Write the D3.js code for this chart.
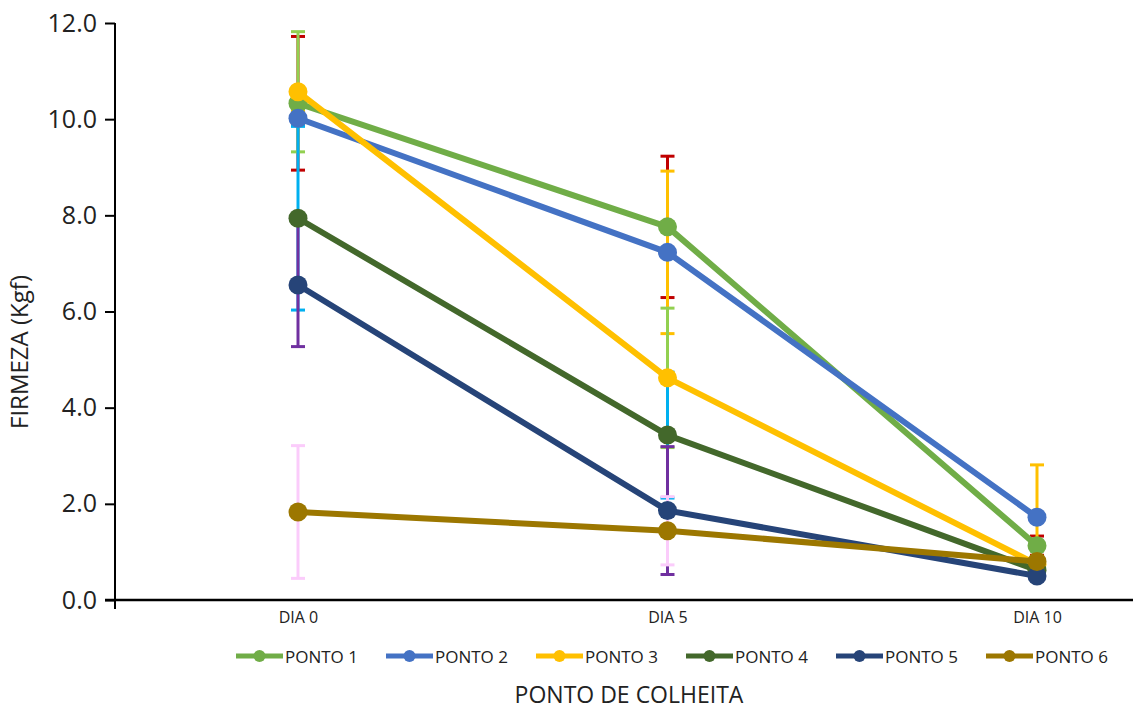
<!DOCTYPE html>
<html>
<head>
<meta charset="utf-8">
<script src="https://cdn.jsdelivr.net/npm/d3@7"></script>
<style>
  body { margin: 0; background: #fff; }
  svg { display: block; font-family: "Open Sans", sans-serif; }
</style>
</head>
<body>
<svg id="chart" width="1133" height="709"></svg>
<script>
var days = ["DIA 0", "DIA 5", "DIA 10"];
var seriesNames = ["PONTO 1", "PONTO 2", "PONTO 3", "PONTO 4", "PONTO 5", "PONTO 6"];
var yTicks = [0, 2, 4, 6, 8, 10, 12];

var ponto1 = [10.33, 7.76, 1.13];
var ponto2 = [10.02, 7.23, 1.72];
var ponto3 = [10.57, 4.62, 0.74];
var ponto4 = [7.94, 3.43, 0.62];
var ponto5 = [6.55, 1.86, 0.50];
var ponto6 = [1.83, 1.44, 0.80];

var err1 = [1.39, 1.47, 0.20];
var err2 = [0.15, 1.69, 1.09];
var err3 = [1.25, 1.45, 0.10];
var err4 = [1.91, 1.31, 0.10];
var err5 = [1.28, 1.33, 0.10];
var err6 = [1.38, 0.71, 0.10];

var lineColors = ["#70ad47", "#4472c4", "#ffc000", "#43682b", "#264478", "#9c7700"];
var errColors = ["#c00000", "#ffc000", "#92d050", "#00b0f0", "#7030a0", "#fbccfb"];

var values = [ponto1, ponto2, ponto3, ponto4, ponto5, ponto6];
var errors = [err1, err2, err3, err4, err5, err6];

var series = seriesNames.map(function(name, i) {
  return {
    name: name,
    color: lineColors[i],
    errColor: errColors[i],
    points: days.map(function(d, j) {
      return { day: d, v: values[i][j], e: errors[i][j] };
    })
  };
});

var svg = d3.select("#chart");

var x = d3.scalePoint().domain(days).range([298, 1037]);
var y = d3.scaleLinear().domain([0, 12]).range([600, 23]);

// y axis
var yAxis = svg.append("g")
  .attr("transform", "translate(115,0)")
  .call(d3.axisLeft(y).tickValues(yTicks).tickSize(10).tickPadding(8)
    .tickFormat(d3.format(".1f")));
yAxis.select(".domain").remove();
yAxis.selectAll(".tick line").attr("stroke", "#000").attr("stroke-width", 2);
yAxis.selectAll(".tick text")
  .attr("font-size", 25).attr("fill", "#222")
  .attr("font-family", "Open Sans");
svg.append("line")
  .attr("x1", 115).attr("x2", 115)
  .attr("y1", y(12)).attr("y2", 609)
  .attr("stroke", "#000").attr("stroke-width", 2);

// x axis
var xAxis = svg.append("g")
  .attr("transform", "translate(0,600)")
  .call(d3.axisBottom(x).tickSize(0).tickPadding(12));
xAxis.select(".domain").remove();
xAxis.selectAll(".tick text")
  .attr("font-size", 16).attr("fill", "#222")
  .attr("font-family", "Open Sans");
svg.append("line")
  .attr("x1", 105).attr("x2", 1133)
  .attr("y1", 600).attr("y2", 600)
  .attr("stroke", "#000").attr("stroke-width", 2.5);

// axis titles
svg.append("text")
  .attr("transform", "translate(28,352) rotate(-90)")
  .attr("text-anchor", "middle")
  .attr("font-size", 24)
  .attr("fill", "#222")
  .text("FIRMEZA (Kgf)");

svg.append("text")
  .attr("x", 629).attr("y", 703)
  .attr("text-anchor", "middle")
  .attr("font-size", 23)
  .attr("fill", "#222")
  .text("PONTO DE COLHEITA");

// error bars go under all the lines
var bars = svg.append("g").selectAll("g")
  .data(series).enter().append("g")
  .attr("stroke", function(s) { return s.errColor; })
  .attr("stroke-width", 3);

bars.selectAll("line.v")
  .data(function(s) { return s.points; }).enter().append("line")
  .attr("class", "v")
  .attr("x1", function(p) { return x(p.day); })
  .attr("x2", function(p) { return x(p.day); })
  .attr("y1", function(p) { return y(p.v + p.e); })
  .attr("y2", function(p) { return y(p.v - p.e); });

[1, -1].forEach(function(sign) {
  bars.selectAll("line.c" + (sign > 0 ? "t" : "b"))
    .data(function(s) { return s.points; }).enter().append("line")
    .attr("class", "c" + (sign > 0 ? "t" : "b"))
    .attr("x1", function(p) { return x(p.day) - 7; })
    .attr("x2", function(p) { return x(p.day) + 7; })
    .attr("y1", function(p) { return y(p.v + sign * p.e); })
    .attr("y2", function(p) { return y(p.v + sign * p.e); });
});

// lines and markers
var line = d3.line()
  .x(function(p) { return x(p.day); })
  .y(function(p) { return y(p.v); });

var groups = svg.append("g").selectAll("g")
  .data(series).enter().append("g");

groups.append("path")
  .attr("d", function(s) { return line(s.points); })
  .attr("fill", "none")
  .attr("stroke", function(s) { return s.color; })
  .attr("stroke-width", 6)
  .attr("stroke-linejoin", "round");

groups.selectAll("circle")
  .data(function(s) { return s.points.map(function(p) { return { p: p, c: s.color }; }); })
  .enter().append("circle")
  .attr("cx", function(d) { return x(d.p.day); })
  .attr("cy", function(d) { return y(d.p.v); })
  .attr("r", 9.5)
  .attr("fill", function(d) { return d.c; });

// legend
var legend = svg.append("g").selectAll("g")
  .data(series).enter().append("g")
  .attr("transform", function(s, i) { return "translate(" + (236 + i * 150) + ",656)"; });

legend.append("line")
  .attr("x1", 0).attr("x2", 47)
  .attr("stroke", function(s) { return s.color; })
  .attr("stroke-width", 5);
legend.append("circle")
  .attr("cx", 23.5).attr("r", 6)
  .attr("fill", function(s) { return s.color; });
legend.append("text")
  .attr("x", 49).attr("y", 6.5)
  .attr("font-size", 17)
  .attr("fill", "#222")
  .text(function(s) { return s.name; });
</script>
</body>
</html>
